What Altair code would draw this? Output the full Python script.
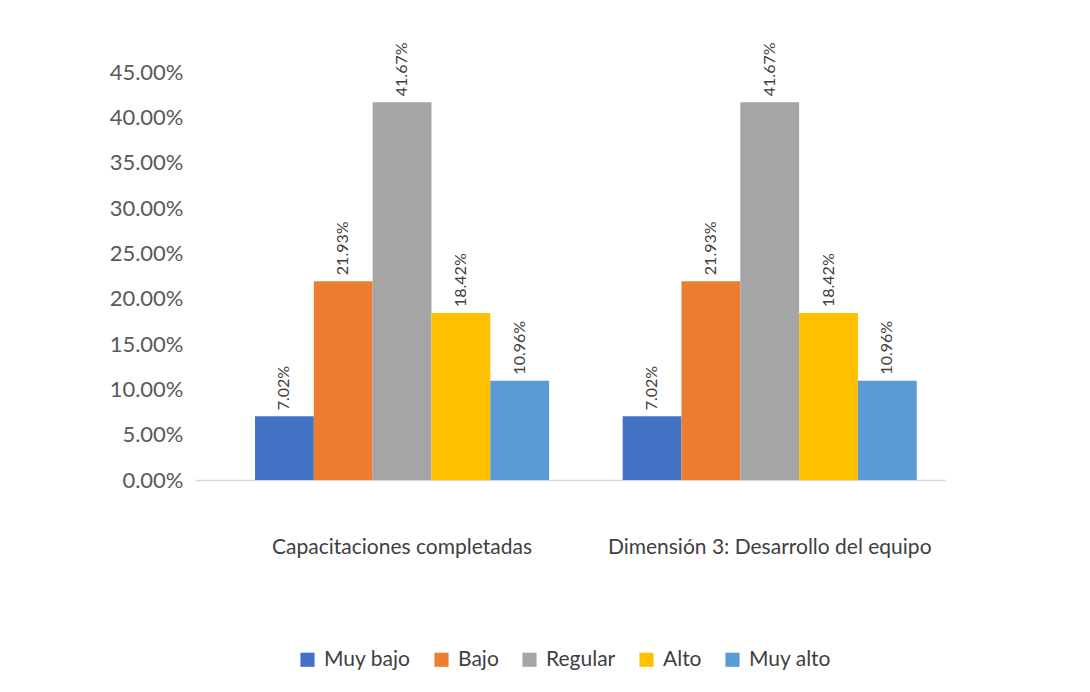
import altair as alt
import pandas as pd

categories = ["Capacitaciones completadas", "Dimensión 3: Desarrollo del equipo"]
series = ["Muy bajo", "Bajo", "Regular", "Alto", "Muy alto"]
values_cap = [0.0702, 0.2193, 0.4167, 0.1842, 0.1096]
values_dim = [0.0702, 0.2193, 0.4167, 0.1842, 0.1096]
colors = ["#4472C4", "#ED7D31", "#A5A5A5", "#FFC000", "#5B9BD5"]
y_ticks = [0, 0.05, 0.10, 0.15, 0.20, 0.25, 0.30, 0.35, 0.40, 0.45]

rows = []
for cat, vals in zip(categories, [values_cap, values_dim]):
    for s, v in zip(series, vals):
        rows.append({"categoria": cat, "nivel": s, "valor": v})
df = pd.DataFrame(rows)

FONT = "Lato"

x = alt.X(
    "categoria:N",
    sort=categories,
    title=None,
    scale=alt.Scale(paddingInner=0.2, paddingOuter=0.12, align=0.68),
    axis=alt.Axis(
        labelAngle=0,
        labelFontSize=21,
        labelColor="#404040",
        labelFont=FONT,
        labelPadding=56,
        labelLimit=0,
        ticks=False,
        domain=True,
        domainColor="#D9D9D9",
        domainWidth=1.5,
    ),
)
xoff = alt.XOffset("nivel:N", sort=series, scale=alt.Scale(paddingInner=0, paddingOuter=0))
y = alt.Y(
    "valor:Q",
    title=None,
    scale=alt.Scale(domain=[0, 0.45], nice=False),
    axis=alt.Axis(
        values=y_ticks,
        format=".2%",
        labelFontSize=22,
        labelColor="#595959",
        labelFont=FONT,
        labelPadding=12,
        grid=False,
        ticks=False,
        domain=False,
    ),
)
color = alt.Color(
    "nivel:N",
    sort=series,
    scale=alt.Scale(domain=series, range=colors),
    legend=alt.Legend(
        title=None,
        orient="none",
        direction="horizontal",
        legendX=102,
        legendY=577,
        symbolType="square",
        symbolSize=200,
        symbolStrokeWidth=0,
        labelFontSize=21,
        labelFont=FONT,
        labelColor="#404040",
        columnPadding=20,
        labelOffset=6,
    ),
)

bars = alt.Chart(df).mark_bar(opacity=1).encode(x=x, xOffset=xoff, y=y, color=color)

labels = alt.Chart(df).mark_text(
    angle=270,
    align="left",
    baseline="middle",
    dx=6,
    fontSize=16,
    font=FONT,
    color="#404040",
).encode(
    x=alt.X("categoria:N", sort=categories),
    xOffset=alt.XOffset("nivel:N", sort=series),
    y=alt.Y("valor:Q"),
    text=alt.Text("valor:Q", format=".2%"),
)

chart = (
    alt.layer(bars, labels)
    .properties(
        width=750,
        height=408,
        padding={"left": 195, "top": 72, "right": 145, "bottom": 212},
        autosize=alt.AutoSizeParams(type="none"),
        background="white",
    )
    .configure_view(stroke=None)
)

chart.save("out.html", embed_options={"renderer": "svg", "actions": False})
